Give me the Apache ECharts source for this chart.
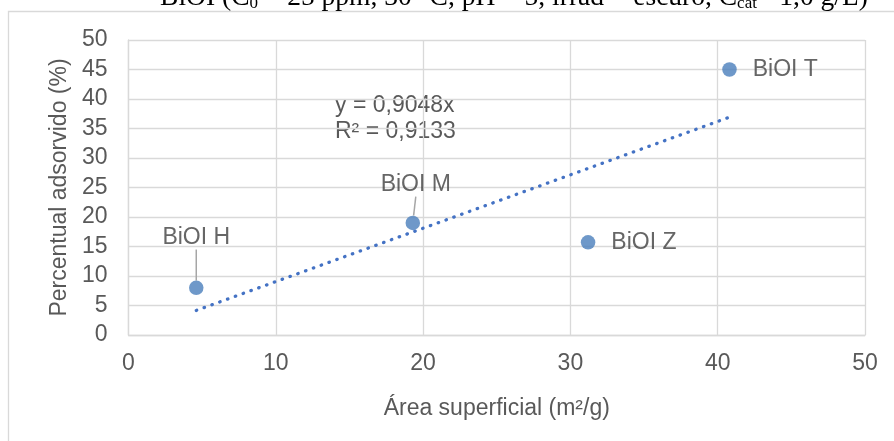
<!DOCTYPE html>
<html>
<head>
<meta charset="utf-8">
<script src="https://cdn.jsdelivr.net/npm/echarts@6/dist/echarts.min.js"></script>
<style>html,body{margin:0;padding:0;background:#fff}#c{width:894px;height:441px}</style>
</head>
<body>
<div id="c"></div>
<script>
const names = ['BiOI H', 'BiOI M', 'BiOI Z', 'BiOI T'];
const areaX = [4.6, 19.3, 31.2, 40.8];
const adsorbY = [8, 19, 15.7, 45];
const trendX = [4.6, 40.8];
const trendY = [4.16, 36.92];
const equationLines = ['y = 0,9048x', 'R² = 0,9133'];
const xTicks = [0, 10, 20, 30, 40, 50];
const yTicks = [0, 5, 10, 15, 20, 25, 30, 35, 40, 45, 50];

const chart = echarts.init(document.getElementById('c'));
const font = 'Liberation Sans, Arial, sans-serif';
const blue = '#4a7ebb';

const scatterData = names.map((n, i) => {
  const above = i < 2;
  return {
    name: n,
    value: [areaX[i], adsorbY[i]],
    label: above ? {position: 'top', distance: 5} : {position: 'right', distance: 16},
    labelLine: {show: above}
  };
});

chart.setOption({
  animation: false,
  grid: {left: 128.5, right: 29, top: 40, bottom: 106},
  xAxis: {
    type: 'value', min: xTicks[0], max: xTicks[xTicks.length - 1], interval: 10,
    axisLine: {show: true, lineStyle: {color: '#d9d9d9', width: 1.3}},
    axisTick: {show: false},
    splitLine: {show: true, lineStyle: {color: '#d9d9d9', width: 1.3}},
    axisLabel: {color: '#595959', fontSize: 23, fontFamily: font, margin: 17},
    name: 'Área superficial (m²/g)', nameLocation: 'middle', nameGap: 62,
    nameTextStyle: {color: '#595959', fontSize: 23, fontFamily: font}
  },
  yAxis: {
    type: 'value', min: yTicks[0], max: yTicks[yTicks.length - 1], interval: 5,
    axisLine: {show: true, lineStyle: {color: '#d9d9d9', width: 1.3}},
    axisTick: {show: false},
    splitLine: {show: true, lineStyle: {color: '#d9d9d9', width: 1.3}},
    axisLabel: {color: '#595959', fontSize: 23, fontFamily: font, margin: 21},
    name: 'Percentual adsorvido (%)', nameLocation: 'middle', nameGap: 54,
    nameTextStyle: {color: '#595959', fontSize: 23, fontFamily: font}
  },
  series: [
    {
      type: 'line',
      data: trendX.map((x, i) => [x, trendY[i]]),
      showSymbol: false,
      symbol: 'none',
      lineStyle: {color: '#4472c4', width: 3.3, type: [0.5, 7.8], cap: 'round'},
      silent: true,
      z: 1
    },
    {
      type: 'scatter',
      data: scatterData,
      symbolSize: 14.5,
      itemStyle: {color: blue},
      label: {show: true, formatter: '{b}', color: '#404040', fontSize: 23, fontFamily: font},
      labelLine: {show: true, lineStyle: {color: '#a6a6a6', width: 1.5}},
      labelLayout: function (p) {
        if (p.dataIndex === 0) return {dy: -26};
        if (p.dataIndex === 1) return {dy: -14, dx: 3};
        return {};
      },
      z: 3
    }
  ],
  graphic: [
    {type: 'rect', shape: {x: 8.5, y: 11.5, width: 900, height: 450}, style: {fill: 'none', stroke: '#d9d9d9', lineWidth: 1.3}, silent: true},
    {type: 'text', x: 514, y: 12, style: {
      text: '{a|BiOI (C}{s|0}{a| = 25 ppm, 30 °C, pH = 5, irrad = escuro, C}{s|cat}{a|= 1,0 g/L)}',
      textAlign: 'center', textVerticalAlign: 'bottom',
      rich: {
        a: {fontSize: 27.5, fontFamily: 'Liberation Serif, Times New Roman, serif', fill: '#000', verticalAlign: 'bottom', lineHeight: 30},
        s: {fontSize: 17, fontFamily: 'Liberation Serif, Times New Roman, serif', fill: '#000', verticalAlign: 'bottom', lineHeight: 30}
      }
    }},
    {type: 'text', x: 335, y: 106, style: {text: equationLines[0], fill: '#595959', fontSize: 23, fontFamily: font, textVerticalAlign: 'middle'}},
    {type: 'text', x: 335, y: 132, style: {text: equationLines[1], fill: '#595959', fontSize: 23, fontFamily: font, textVerticalAlign: 'middle'}}
  ]
});
</script>
</body>
</html>
